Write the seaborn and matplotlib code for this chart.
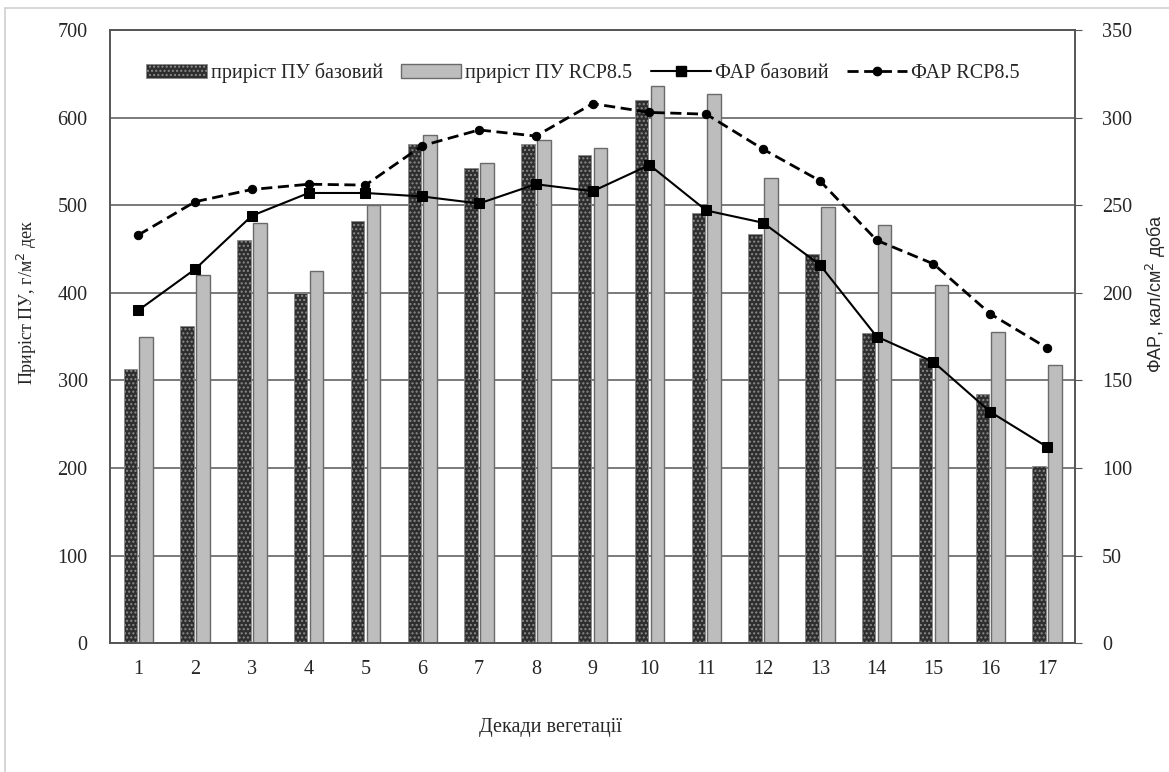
import numpy as np
import pandas as pd
import matplotlib
matplotlib.use("Agg")
import matplotlib.pyplot as plt
import seaborn as sns
from matplotlib.patches import Patch, Rectangle
from matplotlib.lines import Line2D
from matplotlib.ticker import MultipleLocator, FixedLocator

# дані
decades = [str(i) for i in range(1, 18)]
pu_base = [313, 362, 460, 400, 482, 570, 543, 570, 557, 620, 491, 467, 444, 354, 325, 284, 202]
pu_rcp = [350, 420, 480, 425, 500, 580, 548, 575, 565, 636, 627, 531, 498, 477, 409, 355, 317]
far_base = [190, 213.5, 244, 257, 257, 255, 251, 262, 258, 273, 247, 240, 216, 175, 160.5, 132, 112]
far_rcp = [233, 252, 259, 262, 261.5, 284, 293, 289.5, 308, 303, 302, 282, 264, 230, 216.5, 188, 168.5]

lbl_base = "приріст ПУ базовий"
lbl_rcp = "приріст ПУ RCP8.5"

df = pd.DataFrame({
    "decade": decades * 2,
    "value": pu_base + pu_rcp,
    "series": [lbl_base] * len(decades) + [lbl_rcp] * len(decades),
})

sns.set_style("white")
plt.rcParams['font.family'] = ['Liberation Serif', 'DejaVu Serif']
plt.rcParams['hatch.linewidth'] = 1.0

FS = 14.5
fig = plt.figure(figsize=(11.69, 7.72), dpi=100)
ax = fig.add_axes([0.094, 0.167, 0.826, 0.794])

sns.barplot(data=df, x="decade", y="value", hue="series",
            hue_order=[lbl_base, lbl_rcp], palette=["#2e2e2e", "#bdbdbd"],
            width=0.56, gap=0.15, legend=False, ax=ax)

# стилі стовпців
for bar in ax.containers[0]:
    bar.set_edgecolor("#8a8a8a")
    bar.set_hatch("....")
    bar.set_linewidth(0.6)
for bar in ax.containers[1]:
    bar.set_edgecolor("#6a6a6a")
    bar.set_linewidth(1.0)

ax.set_ylim(0, 700)
ax.set_xlim(-0.5, len(decades) - 0.5)
ax.yaxis.set_major_locator(MultipleLocator(100))
ax.yaxis.grid(True, color="#707070", lw=1.3)
ax.set_axisbelow(True)
ax.tick_params(axis="y", length=0, labelsize=FS, pad=16)
ax.tick_params(axis="x", which="major", length=0, labelsize=FS, pad=12)
ax.xaxis.set_minor_locator(FixedLocator(np.arange(0.5, len(decades) - 1, 1)))
ax.tick_params(axis="x", which="minor", direction="in", length=5, color="#555555")
for s in ax.spines.values():
    s.set_color("#555555")
    s.set_linewidth(1.2)

ax.set_xlabel("Декади вегетації", fontsize=FS)
ax.xaxis.set_label_coords(0.456, -0.122)
ax.set_ylabel("Приріст ПУ, г/м$^2$ дек", fontsize=13)
ax.yaxis.set_label_coords(-0.073, 0.556)

# друга вісь - ФАР
ax2 = ax.twinx()
idx = np.arange(len(decades))
sns.lineplot(x=idx, y=far_base, ax=ax2, color="black", lw=1.5,
             marker="s", markersize=7, markeredgecolor="black")
sns.lineplot(x=idx, y=far_rcp, ax=ax2, color="black", lw=2.0,
             marker="o", markersize=6, markeredgecolor="black")
ax2.get_lines()[1].set_dashes((4, 2))
ax2.set_ylim(0, 350)
ax2.yaxis.set_major_locator(MultipleLocator(50))
ax2.tick_params(axis="y", direction="out", length=5, labelsize=FS, pad=14, color="#555555")
ax2.grid(False)
for s in ax2.spines.values():
    s.set_color("#555555")
    s.set_linewidth(1.2)
ax2.set_ylabel("")
fig.text(0.989, 0.62, "ФАР, кал/см$^2$ доба", rotation=90, ha="center", va="center",
         fontsize=13, family=["Liberation Sans", "DejaVu Sans"])

handles = [
    Patch(facecolor="#2e2e2e", edgecolor="#8a8a8a", hatch="....", lw=0.6),
    Patch(facecolor="#bdbdbd", edgecolor="#6a6a6a", lw=1.0),
    Line2D([], [], color="black", lw=1.5, marker="s", markersize=7),
    Line2D([], [], color="black", lw=2.0, marker="o", markersize=6, dashes=(4, 2)),
]
ax.legend(handles, [lbl_base, lbl_rcp, "ФАР базовий", "ФАР RCP8.5"],
          loc="center", bbox_to_anchor=(0.49, 0.93), ncol=4, frameon=False,
          fontsize=FS, handlelength=3.0, handleheight=0.7, handletextpad=0.2,
          columnspacing=0.9)

# рамка навколо рисунка
fig.patches.append(Rectangle((5 / 1169, -0.1), 1.2, 1.1 - 8 / 772, transform=fig.transFigure,
                             fill=False, edgecolor="#d0d0d0", lw=1.2))

fig.savefig("out.png", dpi=100)
